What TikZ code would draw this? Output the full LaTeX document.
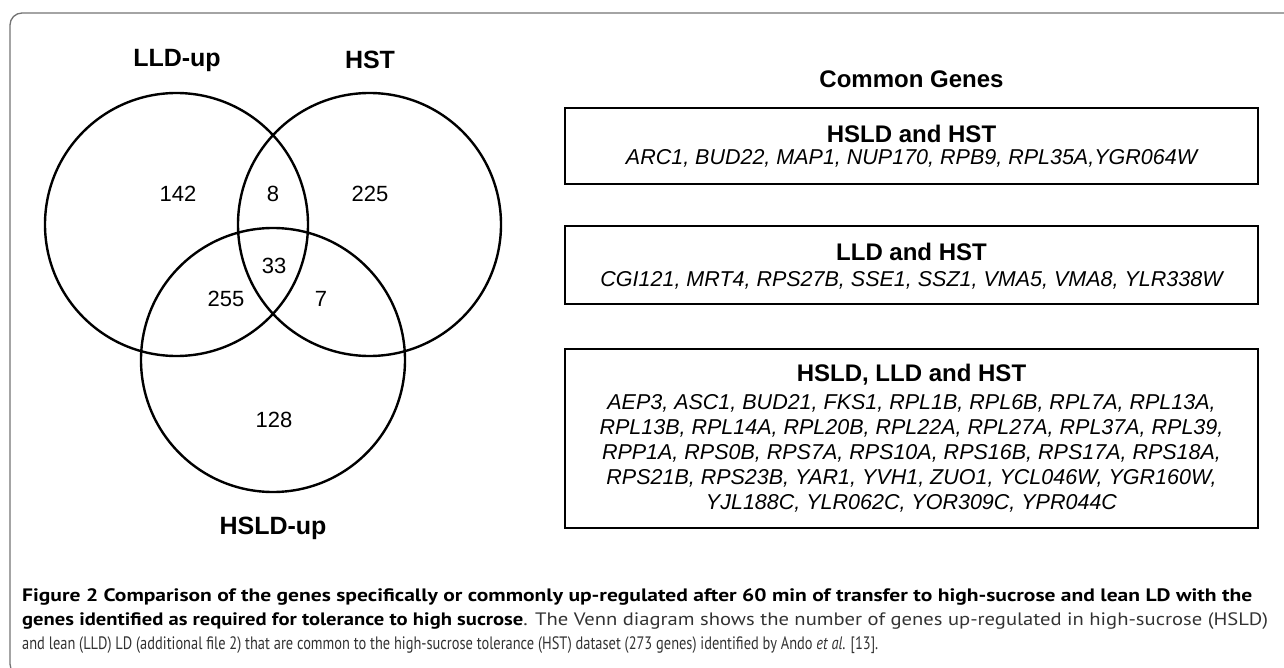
\documentclass[tikz,border=0pt]{standalone}
\usepackage{fontspec}
\usepackage{graphicx}
\setmainfont{Liberation Sans}
\newfontfamily\capfont{PT Sans}
\usetikzlibrary{positioning}
\tikzset{
  venn/.style={line width=2.4pt},
  setname/.style={font=\fontsize{25}{30}\selectfont\bfseries},
  count/.style={font=\fontsize{22}{26}\selectfont},
  genebox/.style={draw,line width=1.8pt,minimum width=693pt,inner sep=0pt},
  boxtitle/.style={font=\fontsize{24}{28}\selectfont\bfseries},
  genes/.style={font=\fontsize{21.5}{25}\selectfont\itshape,align=center},
  capline/.style={anchor=base west,inner sep=0pt,font=\capfont\fontsize{18}{24}\selectfont}
}
\begin{document}
\begin{tikzpicture}[x=1pt,y=-1pt]
\useasboundingbox (0,0) rectangle (1284,668);
% frame
\draw[black!55,line width=1.3pt,rounded corners=12pt] (1300,13) -- (10,13) -- (10,676) -- (60,676);
% venn
\draw[venn] (176.5,224.5) circle[radius=131.5pt];
\draw[venn] (369.5,224.5) circle[radius=131.5pt];
\draw[venn] (273,360) circle[radius=132pt];
\node[setname] (lldname) at (177,60) {LLD-up};
\node[setname] (hstname) at (370,60) {HST};
\node[setname] (hsldname) at (273,528) {HSLD-up};
\node[count] (n142) at (178,194) {142};
\node[count] (n8) at (273,194) {8};
\node[count] (n225) at (370,194) {225};
\node[count] (n33) at (274,266) {33};
\node[count] (n255) at (226,299) {255};
\node[count] (n7) at (321,299) {7};
\node[count] (n128) at (274,420) {128};
% common genes
\node[boxtitle] (common) at (911.5,79) {Common Genes};
\node[genebox,minimum height=76pt] (hsldbox) at (911.5,146) {};
\node[boxtitle] (hsldtitle) at (911.5,134) {HSLD and HST};
\node[genes] (hsldgenes) at (911.5,158) {ARC1, BUD22, MAP1, NUP170, RPB9, RPL35A,YGR064W};
\node[genebox,minimum height=78pt] (lldbox) at (911.5,265) {};
\node[boxtitle] (lldtitle) at (911.5,252) {LLD and HST};
\node[genes] (lldgenes) at (911.5,280) {CGI121, MRT4, RPS27B, SSE1, SSZ1, VMA5, VMA8, YLR338W};
\node[genebox,minimum height=179pt] (allbox) at (911.5,438.5) {};
\node[boxtitle] (alltitle) at (911.5,375) {HSLD, LLD and HST};
\node[genes] (allgenes) at (911.5,453) {AEP3, ASC1, BUD21, FKS1, RPL1B, RPL6B, RPL7A, RPL13A,\\
RPL13B, RPL14A, RPL20B, RPL22A, RPL27A, RPL37A, RPL39,\\
RPP1A, RPS0B, RPS7A, RPS10A, RPS16B, RPS17A, RPS18A,\\
RPS21B, RPS23B, YAR1, YVH1, ZUO1, YCL046W, YGR160W,\\
YJL188C, YLR062C, YOR309C, YPR044C};
% caption
\node[capline] (cap1) at (22,601) {\resizebox{1230pt}{\height}{\bfseries Figure 2 Comparison of the genes specifically or commonly up-regulated after 60 min of transfer to high-sucrose and lean LD with the}};
\node[capline] (cap2) at (22,625) {\resizebox{1246pt}{\height}{\bfseries genes identified as required for tolerance to high sucrose\mdseries\color{black!80}. The Venn diagram shows the number of genes up-regulated in high-sucrose (HSLD)}};
\node[capline,text=black!80] (cap3) at (22,649) {\resizebox{856pt}{\height}{and lean (LLD) LD (additional file 2) that are common to the high-sucrose tolerance (HST) dataset (273 genes) identified by Ando \textit{et al}. [13].}};
\end{tikzpicture}
\end{document}
